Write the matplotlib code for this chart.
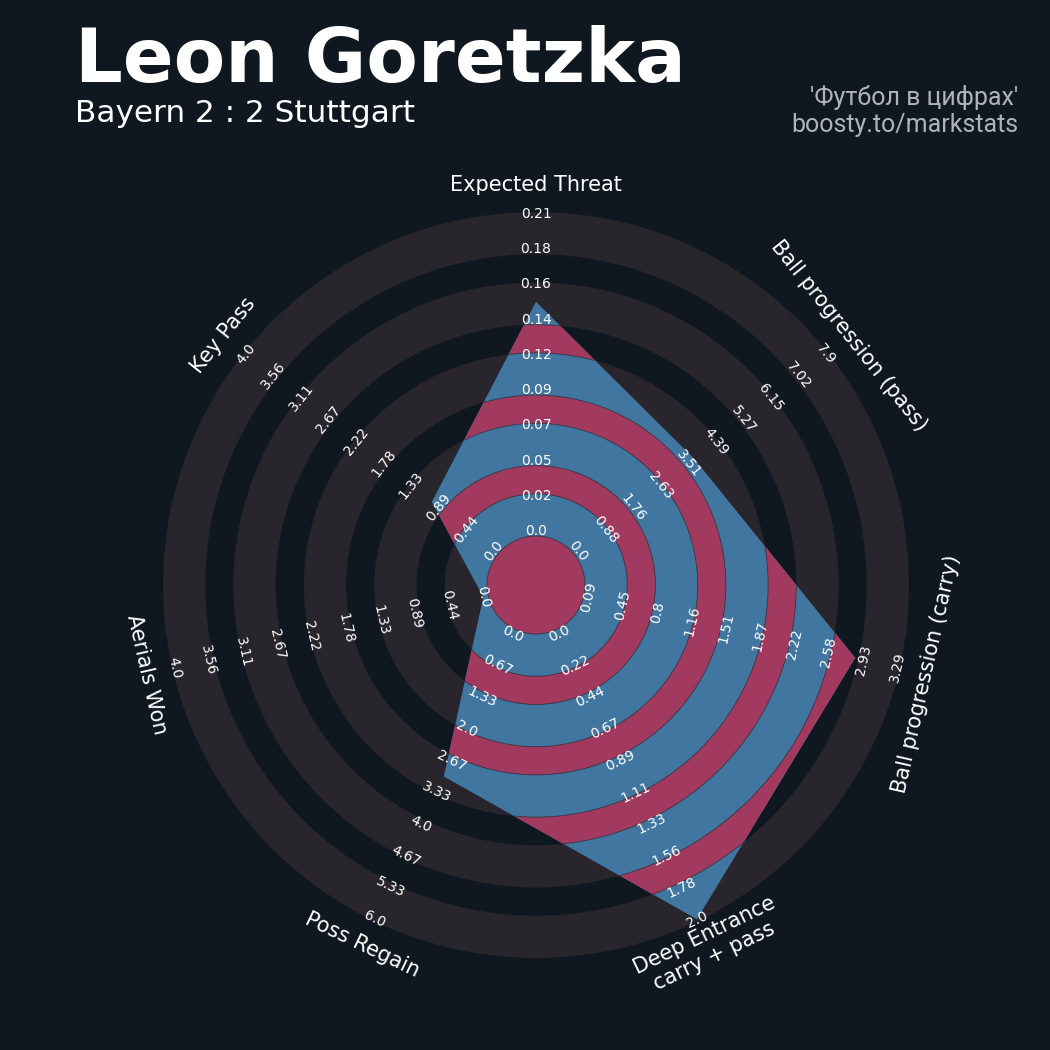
import numpy as np
import matplotlib
matplotlib.use("Agg")
import matplotlib.pyplot as plt
from matplotlib.patches import Circle, Wedge, Polygon

# ---------------- data ----------------
params = ["Expected Threat", "Ball progression (pass)", "Ball progression (carry)",
          "Deep Entrance\ncarry + pass", "Poss Regain", "Aerials Won", "Key Pass"]
values = [0.15, 3.7, 2.85, 2.0, 3.0, 0.0, 1.0]
min_range = [0.0, 0.0, 0.09, 0.0, 0.0, 0.0, 0.0]
max_range = [0.2074, 7.902, 3.29, 2.0, 6.0, 4.0, 4.0]
num_labels = 10

title = "Leon Goretzka"
subtitle = "Bayern 2 : 2 Stuttgart"
credit_lines = ["'Футбол в цифрах'", "boosty.to/markstats"]

# ---------------- style ----------------
BG = "#0f1820"
RING_GREY = "#28252c"
RADAR_BLUE = "#4176a0"
RADAR_RED = "#a23a60"
EDGE = "#39353f"

W, H = 1050, 1050
CX, CY = 536, 585           # radar centre in pixels
CENTER_R = 49               # centre circle radius
OUTER_R = 373               # outer radius
R_MIN, R_MAX = 54, 371      # radius of min / max value
LABEL_R = 400               # param label radius

# band boundaries: 5 wide bands (1.5) and 4 narrow (1.0)
unit = (OUTER_R - CENTER_R) / 11.5
widths = [1.5, 1, 1.5, 1, 1.5, 1, 1.5, 1, 1.5]
bounds = CENTER_R + unit * np.concatenate([[0], np.cumsum(widths)])
wide_bands = [(bounds[i], bounds[i + 1]) for i in range(0, 9, 2)]
narrow_bands = [(bounds[i], bounds[i + 1]) for i in range(1, 9, 2)]

fig = plt.figure(figsize=(W / 100, H / 100), dpi=100, facecolor=BG)
ax = fig.add_axes([0, 0, 1, 1])
ax.set_facecolor(BG)
ax.set_xlim(-CX, W - CX)
ax.set_ylim(-(H - CY), CY)
ax.set_aspect("equal")
ax.axis("off")

n = len(params)
angles = np.deg2rad(90 - np.arange(n) * 360 / n)

# background rings
for r_in, r_out in wide_bands:
    ax.add_patch(Wedge((0, 0), r_out, 0, 360, width=r_out - r_in,
                       facecolor=RING_GREY, edgecolor="none", zorder=1))
ax.add_patch(Circle((0, 0), CENTER_R, facecolor=RING_GREY, edgecolor="none", zorder=1))

# radar polygon
vals = np.array(values)
mins = np.array(min_range)
maxs = np.array(max_range)
radius = R_MIN + (vals - mins) / (maxs - mins) * (R_MAX - R_MIN)
verts = np.column_stack([radius * np.cos(angles), radius * np.sin(angles)])
poly = Polygon(verts, closed=True, facecolor=RADAR_BLUE, edgecolor="none", zorder=2)
ax.add_patch(poly)

# rings inside radar
inner_patches = [Circle((0, 0), CENTER_R, facecolor=RADAR_RED, edgecolor=EDGE, lw=0.6, zorder=3)]
for r_in, r_out in narrow_bands:
    inner_patches.append(Wedge((0, 0), r_out, 0, 360, width=r_out - r_in,
                               facecolor=RADAR_RED, edgecolor=EDGE, lw=0.6, zorder=3))
for p in inner_patches:
    ax.add_patch(p)
    p.set_clip_path(poly)


def tangent_rotation(theta):
    rot = np.rad2deg(theta) - 90
    rot = (rot + 180) % 360 - 180
    if abs(rot) > 90:
        rot = rot + 180 if rot < 0 else rot - 180
    return rot


# range labels
label_r = np.linspace(R_MIN, R_MAX, num_labels)
for i in range(n):
    rot = tangent_rotation(angles[i])
    labs = np.linspace(min_range[i], max_range[i], num_labels)
    for r, v in zip(label_r, labs):
        ax.text(r * np.cos(angles[i]), r * np.sin(angles[i]), str(float(round(v, 2))),
                rotation=rot, rotation_mode="anchor", ha="center", va="center",
                fontsize=10, color="white", zorder=5)

# param labels
for i in range(n):
    rot = tangent_rotation(angles[i])
    ax.text(LABEL_R * np.cos(angles[i]), LABEL_R * np.sin(angles[i]), params[i],
            rotation=rot, rotation_mode="anchor", ha="center", va="center",
            fontsize=15, color="white", zorder=5, multialignment="center")

# titles
fig.text(75 / W, 1 - 82 / H, title, fontsize=54, fontweight="bold", color="white",
         ha="left", va="baseline")
fig.text(75 / W, 1 - 122 / H, subtitle, fontsize=22.4, color="white",
         ha="left", va="baseline")
fig.text(1018 / W, 1 - 105 / H, credit_lines[0], fontsize=18, color="#b0b4b8",
         ha="right", va="baseline", family="Roboto")
fig.text(1018 / W, 1 - 132 / H, credit_lines[1], fontsize=18, color="#b0b4b8",
         ha="right", va="baseline", family="Roboto")

fig.savefig("out.png", dpi=100, facecolor=BG)
